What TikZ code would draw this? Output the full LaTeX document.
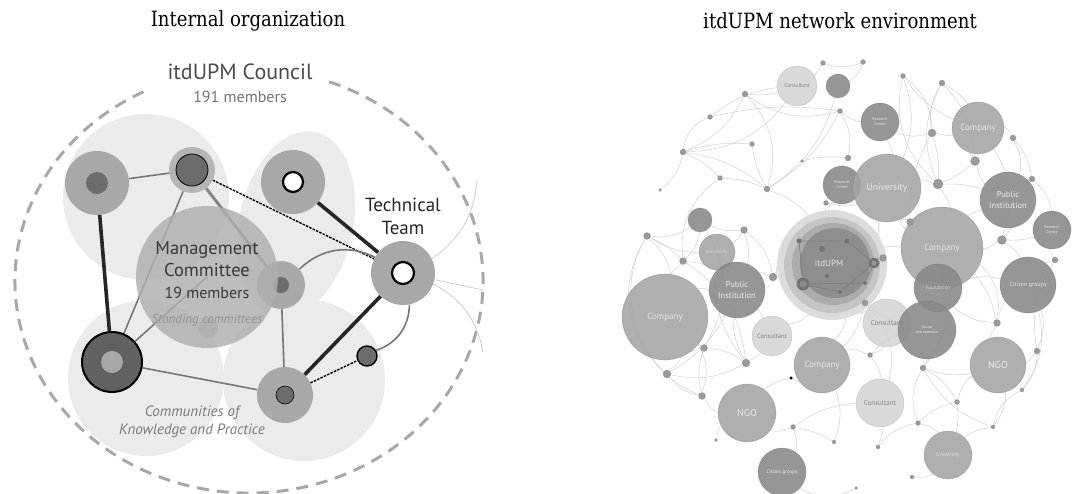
\documentclass[tikz,border=0pt]{standalone}
\usepackage{fontspec}
\setmainfont{PT Sans}
\newfontfamily\titlefont[FakeStretch=0.86]{DejaVu Serif}
\usetikzlibrary{positioning,calc}
\pgfdeclarelayer{bg}
\pgfdeclarelayer{edges}
\pgfsetlayers{bg,edges,main}

\definecolor{blob}{HTML}{EBEBEB}
\definecolor{ringgray}{HTML}{A8A8A8}
\definecolor{coregray}{HTML}{6C6C6C}
\definecolor{linkgray}{HTML}{777777}
\definecolor{councilgray}{HTML}{A8A8A8}
\definecolor{netmid}{HTML}{A4A4A4}
\definecolor{netdark}{HTML}{888888}
\definecolor{netlight}{HTML}{D4D4D4}
\definecolor{netdot}{HTML}{9A9A9A}
\definecolor{netlink}{HTML}{CFCFCF}
\definecolor{itdA}{HTML}{DCDCDC}
\definecolor{itdB}{HTML}{C4C4C4}
\definecolor{itdC}{HTML}{ABABAB}
\definecolor{itdD}{HTML}{8E8E8E}

\newcommand{\sizeto}[1]{\fontsize{#1}{1.2\dimexpr #1pt\relax}\selectfont}

\begin{document}
\begin{tikzpicture}[x=1pt, y=-1pt,
    ring/.style={circle, fill=ringgray, inner sep=0pt, minimum size=#1},
    core/.style={circle, fill=coregray, inner sep=0pt, minimum size=#1},
    hole/.style={circle, fill=white, draw=black, line width=2.2pt, inner sep=0pt, minimum size=#1},
    thinlink/.style={draw=linkgray, line width=1.6pt},
    heavylink/.style={draw=black!85, line width=3.6pt},
    graylink/.style={draw=linkgray!90, line width=3pt},
    dashlink/.style={draw=black, line width=1.4pt, dash pattern=on 2.5pt off 1.2pt},
    farlink/.style={draw=gray!40, line width=0.8pt},
    bubble/.style 2 args={circle, fill=#1, fill opacity=0.88, draw=#1!75!black, draw opacity=0.35,
        line width=0.6pt, inner sep=0pt, minimum size=#2, text opacity=1, align=center},
    dot/.style={circle, fill=netdot, draw=netdot!70!black, draw opacity=0.4, inner sep=0pt, minimum size=#1},
    link/.style={draw=netlink, line width=0.5pt},
  ]
  \useasboundingbox (0,0) rectangle (1075,494);

  % Titles
  \node[font=\titlefont\sizeto{21}] (lefttitle) at (248,21) {Internal organization};
  \node[font=\titlefont\sizeto{21}] (righttitle) at (840,21) {itdUPM network environment};

  % ---------------- Internal organization ----------------
  \begin{pgfonlayer}{bg}
    \fill[blob] (146,197) circle (83);
    \fill[blob, rotate around={-12:(296,224)}] (296,224) ellipse (57 and 94);
    \fill[blob] (146,378) circle (78);
    \fill[blob] (304,380) circle (81);
    % council
    \draw[councilgray, line width=3pt, dash pattern=on 12pt off 8pt]
      (249,281) ++(290:234 and 212) arc[start angle=290, end angle=605, x radius=234, y radius=212];
  \end{pgfonlayer}

  \node[font=\sizeto{22}, text=black!70, inner sep=1pt] (council) at (240,72) {itdUPM Council};
  \node[font=\sizeto{16}, text=black!55, inner sep=1pt] (councilsize) at (240,97) {191 members};

  % circles
  \node[ring=48pt] (S) at (281,285) {};
  \node[core=16pt] (Score) at (S) {};
  \node[ring=20pt, fill=ringgray!85] (U) at (208,328) {};
  \node[ring=64pt] (A) at (97,183) {};
  \node[core=22pt] (Acore) at (A) {};
  \node[ring=46pt, fill=ringgray!85] (B) at (192,170) {};
  \node[core=32pt, draw=black, line width=0.8pt] (Bcore) at (B) {};
  \node[ring=64pt] (C) at (293,182) {};
  \node[hole=20pt] (Chole) at (C) {};
  \node[ring=64pt] (T) at (403,273) {};
  \node[hole=22pt] (Thole) at (T) {};
  \node[core=60pt, fill=black!62, draw=black, line width=2pt] (D) at (112,362) {};
  \node[ring=22pt] (Dcore) at (D) {};
  \node[ring=56pt] (E) at (285,395) {};
  \node[core=18pt, draw=black, line width=0.6pt] (Ecore) at (E) {};
  \node[core=20pt, draw=black, line width=1.4pt] (F) at (367,356) {};
  \node[circle, fill=ringgray!92, fill opacity=0.82, inner sep=0pt, minimum size=142pt] (M) at (207,277) {};

  \coordinate (out1) at (477,180);
  \coordinate (out2) at (483,290);
  \coordinate (out3) at (483,352);

  \begin{pgfonlayer}{edges}
    \draw[thinlink] (A) -- (B);
    \draw[heavylink] (A) -- (D);
    \draw[thinlink] (B) -- (D);
    \draw[graylink] (B) -- (S);
    \draw[dashlink] (B) -- (T);
    \draw[heavylink] (C) -- (T);
    \draw[thinlink] (S) to[bend left=35] (T);
    \draw[thinlink] (D) -- (M.center);
    \draw[thinlink] (D) -- (E);
    \draw[thinlink] (S) -- (E);
    \draw[heavylink] (E) -- (T);
    \draw[dashlink] (E) -- (F);
    \draw[thinlink] (F) to[bend right=35] (T);
    \draw[farlink] (T) to[bend right=25] (out1);
    \draw[farlink] (T) -- (out2);
    \draw[farlink] (T) to[bend left=25] (out3);
  \end{pgfonlayer}

  \node[font=\sizeto{19}, align=center, text=black!85, above=3pt of T] (tech) {Technical\\Team};
  \node[font=\sizeto{18.5}, align=center, text=black!78] (mgmt) at (207,270)
    {Management\\Committee\\\sizeto{16}19 members};
  \node[font=\itshape\sizeto{13}, text=black!42] (standing) at (207,320) {Standing committees};
  \node[font=\itshape\sizeto{15}, align=center, text=black!52] (cokp) at (192,422)
    {Communities of\\Knowledge and Practice};

  % ---------------- itdUPM network environment ----------------
  \foreach \nm/\x/\y/\dia/\tone/\ink/\lbl/\sz in {
      cons1/797/86/40/netlight/black!50/Consultant/5.5,
      dk1/838/86/24/netdark/white//5,
      rc1/880/122/38/netdark/white!90!black/Research\\Centre/4,
      comp1/978/128/52/netmid/white!90!black/Company/9,
      rc2/842/185/38/netdark/white!90!black/Research\\Centre/4,
      univ1/887/188/68/netmid/white!92!black/University/9.5,
      pub1/1008/200/56/netdark/white!92!black/Public\\Institution/8.5,
      rc3/1052/230/38/netdark/white!90!black/Research\\Centre/4,
      comp2/942/248/82/netmid/white!90!black/Company/9,
      found/938/288/48/netdark/white!85!black/Foundation/5,
      citz1/1028/285/56/netdark/white!90!black/Citizen groups/6,
      dk2/700/220/24/netdark/white//5,
      univ2/717/252/36/netmid/white!85!black/University/5,
      pub2/737/290/56/netdark/white!92!black/Public\\Institution/8.5,
      comp3/665/317/86/netmid/white!90!black/Company/9,
      cons2/772/336/40/netlight/black!50/Consultant/6.5,
      cons3/887/323/48/netlight/black!50/Consultant/7,
      soc/927/330/58/netdark/white!90!black/Social\\entrepreneur/4,
      comp4/822/365/56/netmid/white!90!black/Company/9,
      ngo1/998/365/56/netmid/white!92!black/NGO/10,
      ngo2/747/413/58/netmid/white!92!black/NGO/10,
      cons4/880/403/48/netlight/black!50/Consultant/7,
      citz2/782/472/48/netdark/white!90!black/Citizen groups/5,
      univ3/948/455/48/netmid/white!90!black/University/5.5}
    \node[bubble={\tone}{\dia pt}, text=\ink, font=\sizeto{\sz}] (\nm) at (\x,\y) {\lbl};

  % itdUPM
  \node[circle, fill=itdA, inner sep=0pt, minimum size=110pt] (itd) at (832,265) {};
  \node[circle, fill=itdB, inner sep=0pt, minimum size=96pt] (itdb) at (itd) {};
  \node[circle, fill=itdC, inner sep=0pt, minimum size=82pt] (itdc) at (833,264) {};
  \node[circle, fill=itdD, inner sep=0pt, minimum size=70pt] (itdd) at (835,263) {};
  \foreach \nm/\x/\y/\dia in {i1/799/241/5, i2/822/249/6, i3/847/241/5, i4/874/263/11,
      i5/803/284/13, i6/827/276/4, i7/840/292/4, i8/865/283/4}
    \node[circle, fill=black!55, inner sep=0pt, minimum size=\dia pt] (\nm) at (\x,\y) {};
  \node[circle, fill=black!40, inner sep=0pt, minimum size=5pt] at (i4) {};
  \node[circle, fill=black!45, inner sep=0pt, minimum size=7pt] at (i5) {};
  \draw[black!50, line width=0.8pt] (i1) -- (i5) -- (i7) -- (i4) -- (i3) -- (i1);
  \draw[black!50, line width=0.8pt] (i5) -- (i8) -- (i4);
  \node[text=white!90!black, font=\sizeto{9}] (itdlabel) at (829,263) {itdUPM};

  % small actors
  \foreach \nm/\x/\y/\dia in {
      d1/745/94/6, d2/683/152/6, d3/752/144/5, d4/720/178/5, d5/767/189/6, d6/660/190/3,
      d7/802/161/3, d8/840/111/5, d9/848/158/6, d10/903/76/5, d11/942/83/6, d12/932/133/8,
      d13/975/161/9, d14/1013/138/6, d15/938/184/10, d16/1032/179/6, d17/1002/240/9,
      d18/1055/260/6, d19/883/258/7, d20/910/222/7, d21/826/203/5, d22/647/236/7,
      d23/744/230/7, d24/683/261/7, d25/773/277/8, d26/865/303/6, d27/704/348/7,
      d28/746/363/8, d29/667/374/8, d30/702/396/7, d31/791/378/3, d32/870/355/5,
      d33/923/368/6, d34/997/323/7, d35/1037/351/6, d36/957/402/5, d37/918/423/5,
      d38/993/427/4, d39/1022/390/4, d40/793/427/5, d41/834/442/4, d42/878/447/4,
      d43/716/440/3, d44/912/477/4, d45/856/488/3, d46/863/62/5, d47/823/63/5, d48/710/117/5}
    \node[dot=\dia pt] (\nm) at (\x,\y) {};
  \node[circle, fill=black, inner sep=0pt, minimum size=3pt] at (d31) {};

  \begin{pgfonlayer}{edges}
    \foreach \a/\b/\bb in {
        d2/d1/-20, d2/d3/10, d2/d4/10, d2/d5/15, d2/cons1/-25, d1/d5/30, d3/d5/-10,
        d5/dk1/-20, d5/d8/-15, d48/d8/10, d48/cons1/15, d4/d5/10, d1/cons1/-10,
        d47/d46/-20, d47/cons1/10, d46/dk1/20, d8/d9/20, d9/d21/-10, d7/d9/10,
        d5/itd/15, d4/d24/-30, d2/d6/20, d48/d2/-30, d1/d8/-25,
        d22/dk2/-20, d22/univ2/-15, d22/comp3/20, d22/d24/10, dk2/d23/-15, dk2/d24/20,
        d23/univ2/10, d23/pub2/15, d24/comp3/-10, d24/pub2/15, comp3/pub2/20,
        comp3/d27/-15, comp3/d29/20, pub2/d28/-15, pub2/cons2/10, d29/d30/-20,
        d27/d28/15, d29/d28/-20, d30/d27/15, d30/ngo2/-20, d28/cons2/-10, d25/pub2/-20,
        d25/itd/10, d22/d29/-40, comp3/d30/25, univ2/d28/-20, dk2/d27/30, d23/d25/20,
        d22/d30/-50, d24/d28/25, d29/pub2/-15,
        itd/univ1/-20, itd/rc2/15, itd/comp2/10, itd/cons3/-15, itd/d19/-10, itd/comp4/20,
        itd/cons2/15, d21/univ1/-15, d26/comp4/15, d26/soc/-10, d19/univ1/10, d20/comp2/15,
        d10/univ1/20, d10/comp1/-15, d10/d12/25, d11/d12/-20, d11/comp1/15, d11/d15/-25,
        d12/d15/10, d12/comp1/-10, d13/comp1/15, d13/d15/10, d13/pub1/-15, d14/pub1/20,
        d14/comp1/-20, d14/d16/15, d15/univ1/-10, d15/comp2/15, d15/pub1/10, d16/pub1/-10,
        d16/rc3/20, d17/pub1/-15, d17/comp2/10, d17/citz1/15, d17/rc3/-10, d18/rc3/15,
        d18/citz1/-10, rc1/univ1/15, rc1/d12/-20, rc1/d8/15, comp1/d17/25, pub1/comp2/-15,
        univ1/comp2/-20, d20/univ1/10, d10/d15/-30, d11/d13/20, d12/d20/-15,
        comp2/found/10, found/soc/-10, found/citz1/15, found/d34/-20, soc/d33/10,
        soc/d32/-15, d34/citz1/15, d34/ngo1/-15, d35/citz1/-20, d35/ngo1/15, d35/d39/20,
        ngo1/d33/15, ngo1/d36/-20, ngo1/d38/20, d39/ngo1/-10, d33/d36/15, d36/d37/-15,
        d37/univ3/20, d38/univ3/-15, d36/univ3/10, d37/d33/25, d44/univ3/-20, d39/d38/-25,
        d32/cons4/15, d32/comp4/-20, cons3/soc/10, cons3/d32/20, comp4/d31/15,
        comp4/d41/20, cons4/d40/-15, cons4/d42/10, d40/ngo2/20, d31/ngo2/-15, d43/ngo2/15,
        citz2/d40/-20, d41/d40/-10, d42/d37/20, d45/citz2/30, d33/comp2/-20, d34/comp2/-15,
        d18/d35/-20, citz1/d39/25, d33/d38/-20, d26/cons4/30, comp2/d34/30}
      \draw[link] (\a) to[bend left=\bb] (\b);
  \end{pgfonlayer}
\end{tikzpicture}
\end{document}
